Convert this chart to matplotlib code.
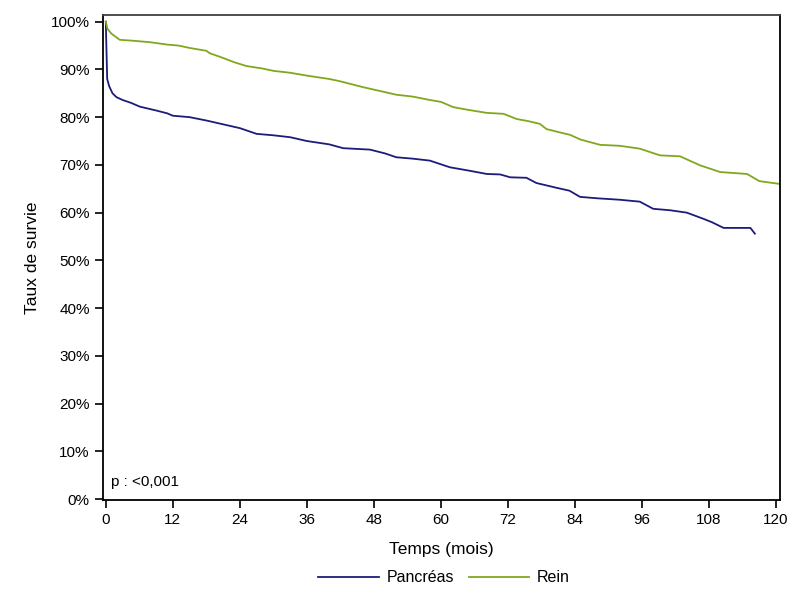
import matplotlib
matplotlib.use("Agg")
import matplotlib.pyplot as plt
from matplotlib.ticker import FuncFormatter

plt.rcParams['font.family'] = ['Liberation Sans', 'DejaVu Sans']

pancreas_t = [0, 0.1, 0.25, 0.6, 1.2, 1.9, 3, 4.5, 6.1, 9, 11, 12, 15, 18, 21, 24, 27, 30, 33, 36,
              40, 42.5, 47.3, 50, 52, 55, 58, 61.6, 65, 68.2, 70.6, 72.4, 75.3, 77.1, 80.7, 83,
              84.9, 88, 92, 95.6, 98, 101, 104, 107, 108.5, 110.6, 115.4, 116.2]
pancreas_s = [100, 95, 88, 86.5, 85, 84.2, 83.6, 83, 82.2, 81.4, 80.8, 80.3, 80.0, 79.3, 78.5, 77.7,
              76.5, 76.2, 75.8, 75.0, 74.3, 73.5, 73.2, 72.4, 71.6, 71.3, 70.9, 69.5, 68.8, 68.1,
              68.0, 67.4, 67.3, 66.2, 65.2, 64.6, 63.3, 63.0, 62.7, 62.3, 60.8, 60.5, 60.0, 58.7,
              58.0, 56.8, 56.8, 55.6]

rein_t = [0, 0.3, 1, 2.5, 5, 7.9, 11, 13, 15, 18, 18.6, 21, 23, 25.2, 28, 30, 33, 36, 40, 42, 46,
          49, 52, 55, 58, 60, 62.2, 65, 68.2, 71.2, 73.6, 75.5, 77.7, 78.9, 81.3, 83.1, 85, 88.5,
          92, 95.6, 99.2, 102.8, 106.4, 110, 114.8, 117, 120.7]
rein_s = [100, 98.5, 97.5, 96.2, 96.0, 95.7, 95.2, 95.0, 94.5, 93.9, 93.4, 92.4, 91.5, 90.7, 90.2,
          89.7, 89.3, 88.7, 88.0, 87.5, 86.3, 85.5, 84.7, 84.3, 83.6, 83.2, 82.1, 81.5, 80.9, 80.7,
          79.6, 79.2, 78.6, 77.5, 76.8, 76.3, 75.3, 74.2, 74.0, 73.4, 72.0, 71.8, 69.9, 68.5, 68.1,
          66.6, 66.0]

x_ticks = list(range(0, 121, 12))
y_ticks = list(range(0, 101, 10))

fig = plt.figure(figsize=(8, 6), dpi=100)
ax = fig.add_axes([103/800, 1-500/600, (780-103)/800, (500-15)/600])

ax.plot(pancreas_t, pancreas_s, color='#1c1c7a', lw=1.3, label='Pancréas')
ax.plot(rein_t, rein_s, color='#7fa81e', lw=1.3, label='Rein')

ax.set_xlim(-0.5, 120.7)
ax.set_ylim(-0.2, 101.4)
ax.set_xticks(x_ticks)
ax.set_yticks(y_ticks)
ax.yaxis.set_major_formatter(FuncFormatter(lambda v, p: f"{int(v)}%"))
ax.tick_params(direction='out', length=6, width=1.2, labelsize=11, colors='black')
for s in ax.spines.values():
    s.set_linewidth(1.3)
ax.spines['top'].set_color('#404040')

ax.set_xlabel('Temps (mois)', fontsize=12.5, labelpad=11)
ax.set_ylabel('Taux de survie', fontsize=12.5, labelpad=8)
ax.text(0.012, 0.022, 'p : <0,001', transform=ax.transAxes, fontsize=11, ha='left', va='bottom')

ax.legend(loc='center', bbox_to_anchor=(444/800, 1-578/600), bbox_transform=fig.transFigure,
          ncol=2, frameon=False, fontsize=11.5, handlelength=3.8, columnspacing=0.9,
          handletextpad=0.5)

fig.savefig('out.png', dpi=100)
